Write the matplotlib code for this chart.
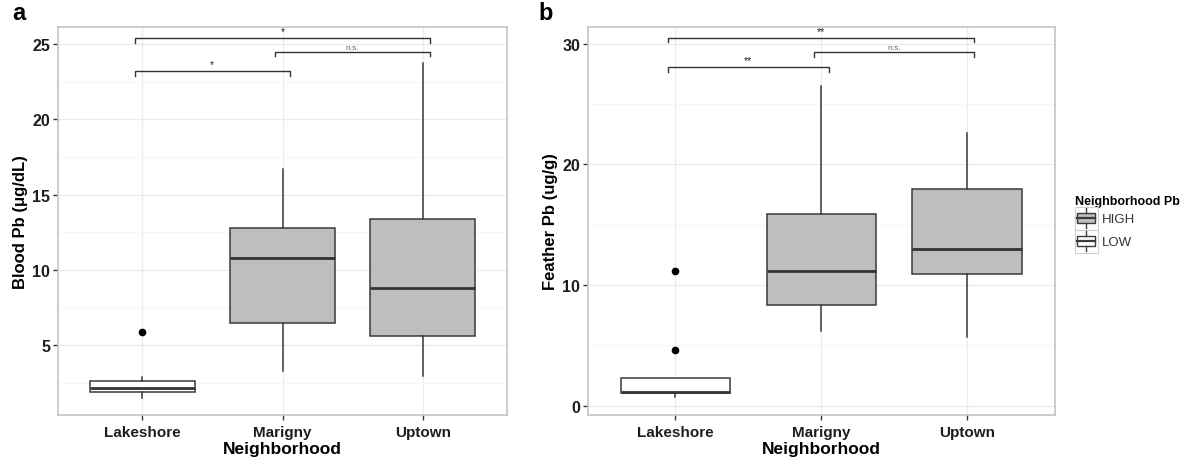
import matplotlib
matplotlib.use('Agg')
from matplotlib import pyplot as plt
import matplotlib.patches as mpatches
import matplotlib.lines as mlines
from matplotlib.legend_handler import HandlerBase
from matplotlib.ticker import MultipleLocator

plt.rcParams['font.family'] = ['Liberation Sans', 'DejaVu Sans']

neighborhoods = ['Lakeshore', 'Marigny', 'Uptown']
pb_level = ['LOW', 'HIGH', 'HIGH']

# blood Pb (ug/dL)
blood_whislo = [1.48, 3.29, 2.96]
blood_q1 = [1.90, 6.46, 5.60]
blood_med = [2.12, 10.78, 8.80]
blood_q3 = [2.59, 12.77, 13.39]
blood_whishi = [2.90, 16.73, 23.77]
blood_fliers = [[5.84], [], []]

# feather Pb (ug/g)
feather_whislo = [0.70, 6.20, 5.73]
feather_q1 = [1.03, 8.36, 10.90]
feather_med = [1.16, 11.15, 13.00]
feather_q3 = [2.27, 15.90, 17.93]
feather_whishi = [2.27, 26.47, 22.60]
feather_fliers = [[11.2, 4.6], [], []]

# significance brackets: (from, to, label)
blood_sig = [(0, 1, '*'), (1, 2, 'n.s.'), (0, 2, '*')]
blood_sig_y = [23.2, 24.49, 25.4]
feather_sig = [(0, 1, '**'), (1, 2, 'n.s.'), (0, 2, '**')]
feather_sig_y = [28.06, 29.31, 30.52]

fill = {'HIGH': '#bebebe', 'LOW': 'white'}
edge = '#3a3a3a'


class BoxKey(HandlerBase):
    # little boxplot glyph like the ggplot legend key
    def create_artists(self, legend, orig_handle, xdescent, ydescent,
                       width, height, fontsize, trans):
        x0, y0 = -xdescent, -ydescent
        bg = mpatches.Rectangle((x0, y0), width, height, facecolor='white',
                                edgecolor='#d0d0d0', lw=0.8, transform=trans)
        box = mpatches.Rectangle((x0 + 0.12 * width, y0 + 0.27 * height),
                                 0.76 * width, 0.46 * height,
                                 facecolor=orig_handle.get_facecolor(),
                                 edgecolor=edge, lw=1.0, transform=trans)
        cx = x0 + width / 2
        w1 = mlines.Line2D([cx, cx], [y0 + 0.08 * height, y0 + 0.27 * height],
                           color=edge, lw=1.0, transform=trans)
        w2 = mlines.Line2D([cx, cx], [y0 + 0.73 * height, y0 + 0.92 * height],
                           color=edge, lw=1.0, transform=trans)
        med = mlines.Line2D([x0 + 0.12 * width, x0 + 0.88 * width],
                            [y0 + 0.5 * height] * 2, color=edge, lw=1.6,
                            transform=trans)
        return [bg, box, w1, w2, med]


def draw_panel(ax, whislo, q1, med, q3, whishi, fliers, sig, sig_y, ylim,
               ystep, ylabel, drop):
    stats = []
    for i in range(len(neighborhoods)):
        stats.append(dict(whislo=whislo[i], q1=q1[i], med=med[i], q3=q3[i],
                          whishi=whishi[i], fliers=fliers[i]))
    bp = ax.bxp(stats, positions=[1, 2, 3], widths=0.75, patch_artist=True,
                showcaps=False,
                boxprops=dict(edgecolor=edge, linewidth=1.1),
                whiskerprops=dict(color=edge, linewidth=1.1),
                medianprops=dict(color='#333333', linewidth=2.0),
                flierprops=dict(marker='o', markerfacecolor='black',
                                markeredgecolor='black', markersize=4.5))
    for patch, lvl in zip(bp['boxes'], pb_level):
        patch.set_facecolor(fill[lvl])
        patch.set_zorder(3)
    for ln in bp['whiskers'] + bp['medians'] + bp['fliers']:
        ln.set_zorder(3)
    bp['medians'][0].set_zorder(4)

    for (a, b, lab), y in zip(sig, sig_y):
        xa, xb = a + 1 - 0.05, b + 1 + 0.05
        ax.plot([xa, xa, xb, xb], [y - drop, y, y, y - drop], color='#333333',
                lw=1.0, zorder=4)
        if lab == 'n.s.':
            ax.text((xa + xb) / 2, y + drop * 0.3, lab, ha='center',
                    va='bottom', fontsize=6, color='#666666')
        else:
            ax.text((xa + xb) / 2, y + drop * 0.45, lab, ha='center',
                    va='bottom', fontsize=7.5, color='#222222')

    ax.set_xlim(0.4, 3.6)
    ax.set_ylim(*ylim)
    ax.set_xticks([1, 2, 3])
    ax.set_xticklabels(neighborhoods)
    ax.yaxis.set_major_locator(MultipleLocator(ystep))
    ax.yaxis.set_minor_locator(MultipleLocator(ystep / 2))
    ax.xaxis.set_minor_locator(MultipleLocator(1))
    ax.grid(which='major', color='#ebebeb', lw=0.9, zorder=0)
    ax.grid(which='minor', axis='y', color='#f6f6f6', lw=0.8, zorder=0)
    ax.set_axisbelow(True)
    ax.tick_params(axis='both', which='major', length=3.5, width=1.0,
                   color='#333333', labelcolor='#1e1e1e')
    ax.tick_params(axis='x', labelsize=11, pad=4)
    ax.tick_params(axis='y', labelsize=11.5, pad=2)
    ax.tick_params(which='minor', length=0)
    for t in ax.get_xticklabels() + ax.get_yticklabels():
        t.set_fontweight('bold')
    for s in ax.spines.values():
        s.set_color('#c4c4c4')
        s.set_linewidth(1.2)
    ax.set_xlabel('Neighborhood', fontsize=12.5, fontweight='bold',
                  labelpad=1)
    ax.set_ylabel(ylabel, fontsize=12, fontweight='bold', labelpad=3)


fig = plt.figure(figsize=(11.89, 4.64), dpi=100)
ax1 = fig.add_axes([58 / 1189, 48 / 464, 449 / 1189, 388 / 464])
ax2 = fig.add_axes([588 / 1189, 48 / 464, 466.5 / 1189, 388 / 464])

draw_panel(ax1, blood_whislo, blood_q1, blood_med, blood_q3, blood_whishi,
           blood_fliers, blood_sig, blood_sig_y, (0.35, 26.15), 5,
           'Blood Pb (\u03bcg/dL)', 0.3)
draw_panel(ax2, feather_whislo, feather_q1, feather_med, feather_q3,
           feather_whishi, feather_fliers, feather_sig, feather_sig_y,
           (-0.77, 31.4), 10, 'Feather Pb (ug/g)', 0.37)

fig.text(12 / 1189, 1 - 14 / 464, 'a', fontsize=17, fontweight='bold',
         va='center', ha='left')
fig.text(538 / 1189, 1 - 14 / 464, 'b', fontsize=17, fontweight='bold',
         va='center', ha='left')

HIGH = mpatches.Patch(facecolor=fill['HIGH'], label='HIGH')
LOW = mpatches.Patch(facecolor=fill['LOW'], label='LOW')
leg = fig.legend(handles=[HIGH, LOW], labels=['HIGH', 'LOW'],
                 handler_map={mpatches.Patch: BoxKey()},
                 loc='upper left', bbox_to_anchor=(1068 / 1189, 1 - 189 / 464),
                 title='Neighborhood Pb', frameon=False, fontsize=9.5,
                 title_fontproperties={'weight': 'bold', 'size': 9},
                 handlelength=1.8, handleheight=2.3, handletextpad=0.3,
                 labelspacing=0.0, borderpad=0, alignment='left')
for t in leg.get_texts():
    t.set_color('#333333')

plt.savefig('out.png', dpi=100)
